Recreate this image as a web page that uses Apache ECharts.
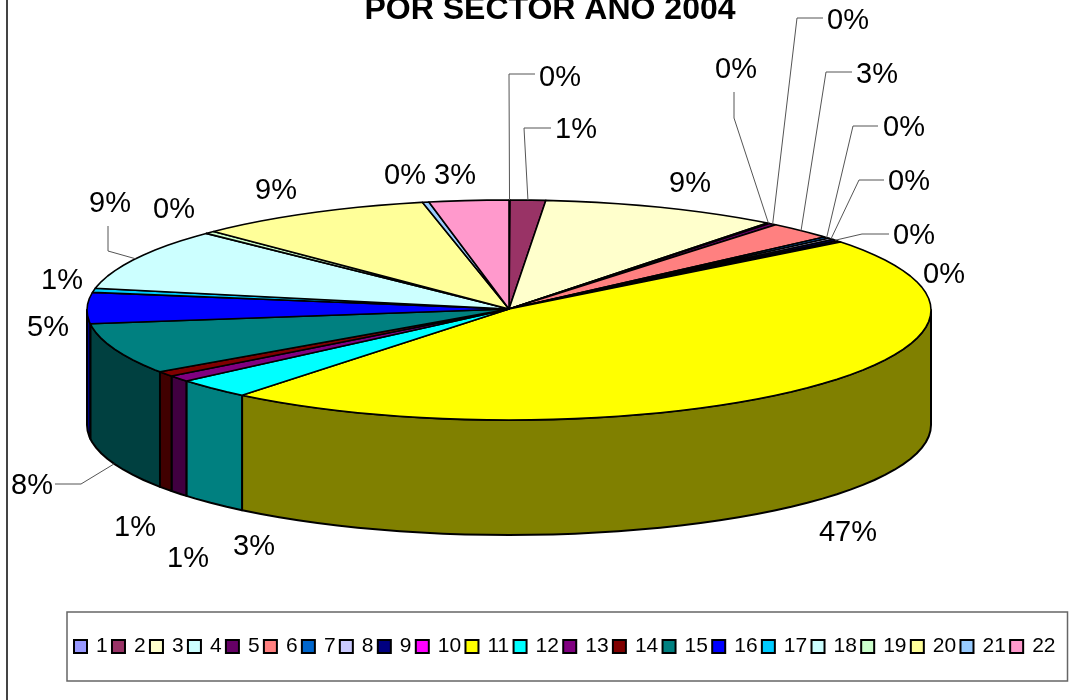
<!DOCTYPE html>
<html>
<head>
<meta charset="utf-8">
<style>html,body{margin:0;padding:0;background:#fff}#c{width:1076px;height:700px}</style>
<script src="https://cdn.jsdelivr.net/npm/echarts@6/dist/echarts.min.js"></script>
</head>
<body>
<div id="c"></div>
<script>
const titleText = 'POR SECTOR AÑO 2004';
const sectorNames = ['1','2','3','4','5','6','7','8','9','10','11','12','13','14','15','16','17','18','19','20','21','22'];
const sectorValues = [0.04,1.35,9.1,0.1,0.3,2.55,0.25,0.25,0.25,0.2,46.51,2.95,0.9,0.75,7.51,4.55,0.6,9.1,0.4,9.05,0.25,3.04];
const sectorColors = ['#9999FF','#993366','#FFFFCC','#CCFFFF','#660066','#FF8080','#0066CC','#CCCCFF','#000080','#FF00FF','#FFFF00','#00FFFF','#800080','#800000','#008080','#0000FF','#00CCFF','#CCFFFF','#CCFFCC','#FFFF99','#99CCFF','#FF99CC'];

// Layout only: where each percentage label sits, and the elbow points of its leader line.
const labelSpots = [[560,78],[576,130],[690,184],[736,70],[848,21],[877,75],[904,128],[909,182],[914,236],[944,275],[848,533],[254,547],[188,559],[135,528],[32,486],[48,328],[62,281],[110,204],[174,210],[276,191],[405,176],[455,176]];
const leaderElbows = {
  0:[[509,74],[535,74]],
  1:[[524,128],[551,128]],
  3:[[734,118],[734,92]],
  4:[[797,18],[823,18]],
  5:[[826,72],[852,72]],
  6:[[853,126],[878,126]],
  7:[[859,180],[884,180]],
  8:[[862,234],[889,234]],
  14:[[81,484],[55,484]],
  17:[[108,251],[108,226]]
};
const pie = {cx:509, cy:310, rx:422, ry:110, depth:115, step:3};

const total = sectorValues.reduce((a,b)=>a+b,0);
const starts = [];
sectorValues.reduce((acc,v,i)=>{starts[i]=acc;return acc+v;},0);
const toDeg = v => v/total*360;
function onTop(t){const r=t*Math.PI/180;return [pie.cx+pie.rx*Math.sin(r),pie.cy-pie.ry*Math.cos(r)];}
function arcAngles(a,b){const out=[a];let t=Math.ceil(a/pie.step)*pie.step;if(t===a)t+=pie.step;for(;t<b;t+=pie.step)out.push(t);out.push(b);return out;}
function darken(c){const p=echarts.color.parse(c);return 'rgb('+[p[0],p[1],p[2]].map(x=>Math.round(x/2)).join(',')+')';}

function renderSector(params,api){
  const i=params.seriesIndex;
  const value=api.value(0);
  const a=toDeg(starts[i]), b=toDeg(starts[i]+value);
  const color=api.visual('color');
  const children=[];
  const lo=Math.max(a,90), hi=Math.min(b,270);
  if(hi>lo){
    const angs=arcAngles(lo,hi);
    const upper=angs.map(onTop);
    const lower=upper.map(p=>[p[0],p[1]+pie.depth]).reverse();
    children.push({type:'polygon',z2:1,shape:{points:upper.concat(lower)},style:{fill:darken(color),stroke:'#000',lineWidth:2,lineJoin:'round'}});
  }
  const top=[[pie.cx,pie.cy-1]].concat(arcAngles(a,b).map(onTop));
  children.push({type:'polygon',z2:2,shape:{points:top},style:{fill:color,stroke:'#000',lineWidth:1.6,lineJoin:'round'}});
  const elbows=leaderElbows[i];
  if(elbows){
    const m=(a+b)/2;
    const anchor=onTop(m);
    if(m>90&&m<270)anchor[1]+=pie.depth;
    children.push({type:'polyline',z2:3,shape:{points:[anchor].concat(elbows)},style:{fill:'none',stroke:'#555',lineWidth:1}});
  }
  const spot=labelSpots[i];
  children.push({type:'text',z2:4,x:spot[0],y:spot[1],style:{text:Math.round(value/total*100)+'%',fill:'#000',font:'29px "Liberation Sans", Arial, sans-serif',align:'center',verticalAlign:'middle'}});
  return {type:'group',children};
}

const chart=echarts.init(document.getElementById('c'),null,{renderer:'canvas'});
chart.setOption({
  animation:false,
  backgroundColor:'#fff',
  color:sectorColors,
  title:{text:titleText,left:550,textAlign:'center',top:-6,padding:0,textStyle:{fontFamily:'"Liberation Sans", Arial, sans-serif',fontWeight:'bold',fontSize:32,color:'#000'}},
  legend:{
    show:true,left:67,top:612,width:1005,orient:'horizontal',
    padding:[24,12,24,6],itemGap:3.3,itemWidth:13,itemHeight:13,icon:'rect',
    selectedMode:false,borderColor:'#666',borderWidth:1.5,
    itemStyle:{borderColor:'#000',borderWidth:2},
    textStyle:{fontFamily:'"Liberation Sans", Arial, sans-serif',fontSize:21,color:'#000',padding:[0,0,0,4]},
    data:sectorNames
  },
  graphic:[{type:'line',silent:true,shape:{x1:7,y1:0,x2:7,y2:700},style:{stroke:'#444',lineWidth:2}}],
  series:sectorNames.map((name,i)=>({
    type:'custom',name,coordinateSystem:'none',silent:true,clip:false,
    renderItem:renderSector,
    data:[[sectorValues[i]]]
  }))
});
</script>
</body>
</html>
